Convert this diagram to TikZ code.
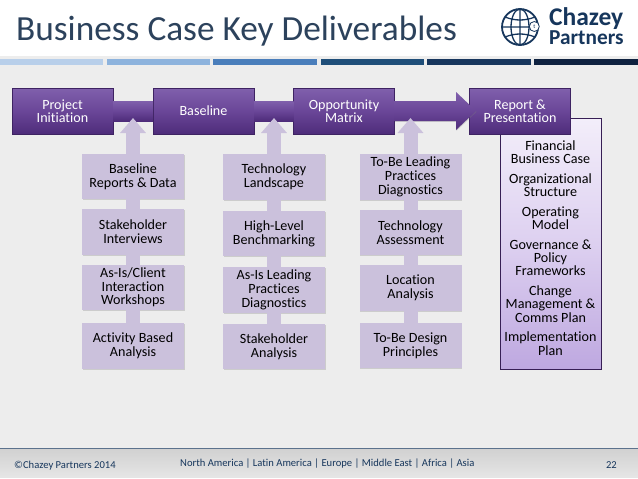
\documentclass[tikz,border=0pt]{standalone}
\usepackage{fontspec}
\setmainfont{Carlito}[Ligatures=NoCommon]
\definecolor{myink}{RGB}{44,66,92}
\definecolor{mynavy}{RGB}{22,54,92}
\definecolor{mylilac}{RGB}{203,193,220}
\definecolor{mypanel}{RGB}{237,237,237}
\definecolor{mypurpletop}{RGB}{128,96,172}
\definecolor{mypurplemid}{RGB}{106,70,152}
\definecolor{mypurplelow}{RGB}{78,44,122}
\definecolor{mylisttop}{RGB}{243,238,250}
\definecolor{mylistmid}{RGB}{221,208,240}
\definecolor{mylistlow}{RGB}{190,168,224}
\usetikzlibrary{calc,arrows.meta,positioning,shadows}

\begin{document}
\begin{tikzpicture}[
  x=1pt,y=-1pt,
  mainbox/.style={
    draw=mypurplelow!80!black,
    thin,
    top color=mypurpletop,
    bottom color=mypurplelow,
    middle color=mypurplemid,
    text=white,
    align=center,
    minimum width=101pt,
    minimum height=46pt,
    inner sep=0pt,
    outer sep=0pt,
    font=\fontsize{14.1}{13.4}\selectfont,
    drop shadow={shadow xshift=.6pt,shadow yshift=-.8pt,opacity=.35}
    },
  itembox/.style={
    fill=mylilac,
    align=center,
    minimum width=102pt,
    minimum height=45.5pt,
    inner sep=0pt,
    outer sep=0pt,
    font=\fontsize{14.1}{13.7}\selectfont,
    drop shadow={shadow xshift=.6pt,shadow yshift=-.9pt,opacity=.3}
    },
  listbox/.style={
    draw=mypurplelow!70!black,
    thin,
    top color=mylisttop,
    bottom color=mylistlow,
    middle color=mylistmid,
    align=center,
    minimum width=100.5pt,
    minimum height=251pt,
    inner sep=0pt,
    outer sep=0pt,
    font=\fontsize{14.1}{13.3}\selectfont,
    drop shadow={shadow xshift=.6pt,shadow yshift=-.9pt,opacity=.3}
    },
  barlink/.style={
    top color=mypurpletop,
    bottom color=mypurplelow,
    middle color=mypurplemid
    },
  itemlink/.style={mylilac,line width=14pt},
  uplink/.style={mylilac,line width=14pt,-{Triangle[length=15pt,width=25pt]}},
  footnote/.style={text=mynavy,inner sep=0pt,font=\fontsize{10.6}{11}\selectfont}
]
\useasboundingbox (0,0) rectangle (638,479);
\fill[white] (0,0) rectangle (638,479);
\fill[mypanel] (0,56) rectangle (638,449);

% title and logo
\node[anchor=base west,text=myink,inner sep=0pt,font=\fontsize{35.3}{40}\selectfont] (title) at (16,41)
  {Business Case Key Deliverables};
\foreach \x/\y/\c in {0/103/184 207 234,107/210/141 179 221,213/317/74 126 187,321/424/31 78 121,427/531/23 54 93,534/638/15 34 64}{
  \definecolor{mybar}{RGB}{\c}
  \fill[mybar] (\x,59) rectangle (\y,65);
}
\node[circle,draw=mynavy,line width=1.8pt,minimum size=36pt,inner sep=0pt] (globe) at (520,27) {};
\draw[mynavy,line width=1.3pt] (globe.north) -- (globe.south)
  (globe.west) -- (globe.east)
  (globe.center) ellipse (9pt and 18pt)
  (505,17) .. controls (515,21) and (525,21) .. (535,17)
  (505,37) .. controls (515,33) and (525,33) .. (535,37);
\node[circle,draw=mynavy,fill=white,line width=.8pt,minimum size=10pt,inner sep=0pt,right=-10pt of globe,yshift=.5pt,font=\fontsize{6}{6}\selectfont,text=mynavy] (pin) {t};
\node[anchor=base west,text=mynavy,inner sep=0pt,font=\bfseries\fontsize{25.5}{24}\selectfont] (chazey) at (549,25.5) {Chazey};
\node[anchor=base west,text=mynavy,inner sep=0pt,font=\bfseries\fontsize{21.3}{22}\selectfont] (partners) at (549,45) {Partners};

% top row
\node[mainbox] (init) at (62.5,111) {Project\\Initiation};
\node[mainbox] (baseline) at (203.5,111) {Baseline};
\node[mainbox] (opp) at (344,111) {Opportunity\\Matrix};
\node[listbox,anchor=north] (list) at (550.5,118) {\rule{0pt}{18.5pt}Financial\\Business Case\\[6.4pt]
  Organizational\\Structure\\[6.4pt]
  Operating\\Model\\[6.4pt]
  Governance \&\\Policy\\Frameworks\\[6.4pt]
  Change\\Management \&\\Comms Plan\\[6.4pt]
  Implementation\\Plan};
\node[mainbox] (report) at (520,111) {Report \&\\Presentation};

\shade[barlink] (init.east |- 0,101) rectangle (baseline.west |- 0,121);
\shade[barlink] (baseline.east |- 0,101) rectangle (opp.west |- 0,121);
\shade[barlink,drop shadow={shadow xshift=.6pt,shadow yshift=-.8pt,opacity=.3}]
  (opp.east |- 0,101) -- (456,101) -- (456,92) -- (476,111) -- (456,130) -- (456,121) -- (opp.east |- 0,121) -- cycle;

% first column
\node[itembox] (basea) at (133,176.5) {Baseline\\Reports \& Data};
\node[itembox,below=10pt of basea] (baseb) {Stakeholder\\Interviews};
\node[itembox,below=10pt of baseb] (basec) {As-Is/Client\\Interaction\\Workshops};
\node[itembox,below=13pt of basec] (based) {Activity Based\\Analysis};

% second column
\node[itembox] (techa) at (274,177) {Technology\\Landscape};
\node[itembox,below=11pt of techa] (techb) {High-Level\\Benchmarking};
\node[itembox,below=11pt of techb] (techc) {As-Is Leading\\Practices\\Diagnostics};
\node[itembox,below=11pt of techc] (techd) {Stakeholder\\Analysis};

% third column
\node[itembox] (tobea) at (410.5,177) {To-Be Leading\\Practices\\Diagnostics};
\node[itembox,below=10pt of tobea] (tobeb) {Technology\\Assessment};
\node[itembox,below=10pt of tobeb] (tobec) {Location\\Analysis};
\node[itembox,below=12pt of tobec] (tobed) {To-Be Design\\Principles};

\foreach \a/\b in {basea/baseb,baseb/basec,basec/based,techa/techb,techb/techc,techc/techd,tobea/tobeb,tobeb/tobec,tobec/tobed}
  \draw[itemlink] (\a.south) -- (\b.north);

\coordinate (tipa) at (133,118);
\coordinate (tipb) at (274,118);
\coordinate (tipc) at (410.5,118);
\draw[uplink] (basea.north) -- (tipa);
\draw[uplink] (techa.north) -- (tipb);
\draw[uplink] (tobea.north) -- (tipc);

% footer
\shade[top color=black!18,bottom color=black!10] (0,449) rectangle (638,477);
\draw[mynavy!70!white,thin] (0,448.5) -- (638,448.5);
\node[footnote,anchor=base west] (copy) at (14,468.5) {©Chazey Partners 2014};
\node[footnote,anchor=base west] (regions) at (180,466.5) {North America | Latin America | Europe | Middle East | Africa | Asia};
\node[footnote,anchor=base east] (page) at (617,468.5) {22};
\end{tikzpicture}
\end{document}
